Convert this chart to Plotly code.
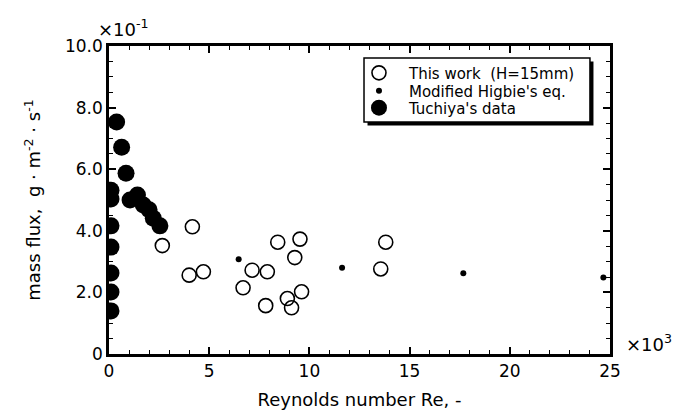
import plotly.graph_objects as go

# Reynolds number (x10^3) and mass flux (x10^-1 g m^-2 s^-1)
this_work_re = [2.66, 4.16, 4.0, 4.71, 6.69, 7.14, 7.9, 7.82, 8.42, 9.53, 9.27, 8.9, 9.11, 9.61, 13.56, 13.81]
this_work_flux = [3.52, 4.13, 2.56, 2.67, 2.15, 2.72, 2.67, 1.57, 3.63, 3.73, 3.13, 1.80, 1.50, 2.02, 2.76, 3.63]

higbie_re = [6.47, 11.63, 17.68, 24.67]
higbie_flux = [3.08, 2.80, 2.62, 2.48]

tuchiya_re = [0.1, 0.1, 0.1, 0.1, 0.1, 0.1, 0.1, 0.38, 0.63, 0.85, 1.05, 1.42, 1.71, 2.0, 2.21, 2.54]
tuchiya_flux = [5.32, 5.03, 4.16, 3.47, 2.63, 2.01, 1.40, 7.53, 6.71, 5.87, 5.0, 5.16, 4.84, 4.68, 4.41, 4.16]

x_ticks = [0, 5, 10, 15, 20, 25]
y_ticks = [0, 2, 4, 6, 8, 10]
y_tick_text = ["0", "2.0", "4.0", "6.0", "8.0", "10.0"]

FONT = "DejaVu Sans, Liberation Sans, sans-serif"

fig = go.Figure()
fig.add_trace(go.Scatter(
    x=this_work_re, y=this_work_flux, mode="markers",
    name="This work  (H=15mm)", legend="legend",
    marker=dict(symbol="circle-open", size=14, color="black", line=dict(width=1.6)),
))
fig.add_trace(go.Scatter(
    x=higbie_re, y=higbie_flux, mode="markers",
    name="Modified Higbie's eq.", legend="legend2",
    marker=dict(symbol="circle", size=6, color="black"),
))
fig.add_trace(go.Scatter(
    x=tuchiya_re, y=tuchiya_flux, mode="markers",
    name="Tuchiya's data", legend="legend3",
    marker=dict(symbol="circle", size=17, color="black"),
))

axis_common = dict(
    showline=True, linecolor="black", linewidth=2.5, mirror="allticks",
    ticks="inside", ticklen=7, tickwidth=1.5, tickcolor="black",
    showgrid=False, zeroline=False, automargin=False,
    tickfont=dict(family=FONT, size=17, color="black"),
)

fig.update_xaxes(
    range=[0, 25], tickvals=x_ticks,
    minor=dict(dtick=1, ticks="inside", ticklen=4, tickwidth=1.2, tickcolor="black", showgrid=False),
    title=dict(text="Reynolds number Re, -", font=dict(family=FONT, size=18, color="black"), standoff=14),
    **axis_common,
)
fig.update_yaxes(
    range=[0, 10], tickvals=y_ticks, ticktext=y_tick_text,
    minor=dict(dtick=0.5, ticks="inside", ticklen=4, tickwidth=1.2, tickcolor="black", showgrid=False),
    title=dict(text="mass flux,  g · m<sup>-2</sup> · s<sup>-1</sup>",
               font=dict(family=FONT, size=18, color="black"), standoff=20),
    **axis_common,
)

# legend frame with a drop shadow
box_x0, box_x1, box_y0, box_y1 = 0.509, 0.960, 0.753, 0.961
fig.add_shape(type="rect", xref="paper", yref="paper",
              x0=box_x0 + 0.007, x1=box_x1 + 0.007, y0=box_y0 - 0.011, y1=box_y1 - 0.011,
              fillcolor="black", line=dict(width=0), layer="above")
fig.add_shape(type="rect", xref="paper", yref="paper",
              x0=box_x0, x1=box_x1, y0=box_y0, y1=box_y1,
              fillcolor="white", line=dict(color="black", width=1.5), layer="above")

legend_style = dict(
    x=0.479, xanchor="left", yanchor="middle",
    bgcolor="rgba(0,0,0,0)", borderwidth=0, itemwidth=50,
    font=dict(family=FONT, size=15, color="black"),
    itemsizing="trace",
)

fig.update_layout(
    width=684, height=410,
    margin=dict(l=109, r=74, t=46, b=56, autoexpand=False),
    paper_bgcolor="white", plot_bgcolor="white",
    showlegend=True,
    legend=dict(y=0.912, **legend_style),
    legend2=dict(y=0.854, **legend_style),
    legend3=dict(y=0.799, **legend_style),
    annotations=[
        # axis multipliers
        dict(text="×10<sup>-1</sup>", xref="paper", yref="paper", x=-0.026, y=1.012,
             xanchor="left", yanchor="bottom", showarrow=False,
             font=dict(family=FONT, size=18, color="black")),
        dict(text="×10<sup>3</sup>", xref="paper", yref="paper", x=1.028, y=0.036,
             xanchor="left", yanchor="middle", showarrow=False,
             font=dict(family=FONT, size=18, color="black")),
    ],
)

fig.write_html("out.html")
